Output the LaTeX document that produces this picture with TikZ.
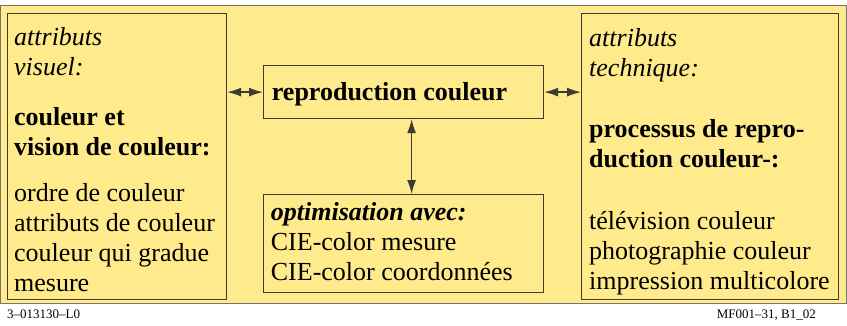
\documentclass[tikz,border=0pt]{standalone}
\usepackage{fontspec}
\setmainfont{Liberation Serif}
\usetikzlibrary{arrows.meta}

\definecolor{bgyellow}{RGB}{255,234,140}
\definecolor{boxline}{RGB}{60,60,50}

\begin{document}
\begin{tikzpicture}[x=1pt,y=-1pt,
  box/.style={draw=boxline,fill=bgyellow,line width=1.2pt,inner sep=0pt,anchor=north west},
  txt/.style={inner sep=0pt,align=left,font=\fontsize{26}{30}\selectfont},
  link/.style={{Latex[length=14pt,width=9pt]}-{Latex[length=14pt,width=9pt]},line width=1.3pt,draw=boxline}]
  \useasboundingbox (0,0) rectangle (847,325);
  \draw[black!55,fill=bgyellow,line width=1pt] (0,5) rectangle (846,303);
  % boxes
  \node[box,minimum width=219pt,minimum height=286pt] (visual) at (7,13) {};
  \node[box,minimum width=280pt,minimum height=53pt] (repro) at (263,65) {};
  \node[box,minimum width=280pt,minimum height=98pt] (optim) at (263,194) {};
  \node[box,minimum width=257pt,minimum height=286pt] (tech) at (581,13) {};
  % texts
  \node[txt,anchor=north west] (visualtxt) at (14,24.7) {\strut\textit{attributs}\\\textit{visuel:}\\[20pt]
    \textbf{couleur et}\\\textbf{vision de couleur:}\\[16pt]
    ordre de couleur\\attributs de couleur\\couleur qui gradue\\mesure};
  \node[txt,anchor=base west] (reprotxt) at (271.7,100) {\textbf{reproduction couleur}};
  \node[txt,anchor=north west] (optimtxt) at (270.7,199) {\strut\textbf{\textit{optimisation avec:}}\\
    CIE-color mesure\\CIE-color coordonnées};
  \node[txt,anchor=north west] (techtxt) at (589,25.7) {\strut\textit{attributs}\\\textit{technique:}\\[31pt]
    \textbf{processus de repro-}\\\textbf{duction couleur-:}\\[32pt]
    télévision couleur\\photographie couleur\\impression multicolore};
  % links
  \draw[link] (visual.east |- repro.west) -- (repro.west);
  \draw[link] (repro.east) -- (tech.west |- repro.east);
  \draw[link] ([xshift=8pt]repro.south) -- ([xshift=8pt]optim.north);
  % footer
  \node[anchor=base west,inner sep=0pt,font=\fontsize{13}{15}\selectfont] (codel) at (7,318) {3–013130–L0};
  \node[anchor=base east,inner sep=0pt,font=\fontsize{13}{15}\selectfont] (coder) at (816,318) {MF001–31, B1\_02};
\end{tikzpicture}
\end{document}
